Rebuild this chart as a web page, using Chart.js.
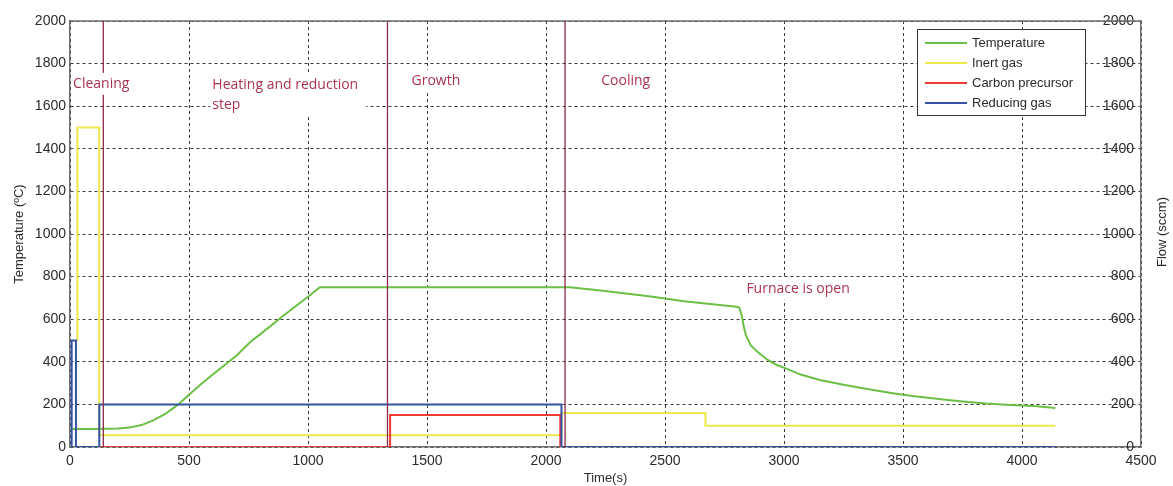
<!DOCTYPE html>
<html>
<head>
<meta charset="utf-8">
<script src="https://cdn.jsdelivr.net/npm/chart.js@4.4.0/dist/chart.umd.min.js"></script>
<style>
  html, body { margin: 0; padding: 0; background: #fff; }
  #wrap { width: 1173px; height: 486px; position: relative; }
</style>
</head>
<body>
<div id="wrap"><canvas id="c" width="1173" height="486"></canvas></div>
<script>
// Furnace run profile: temperature (left axis, °C) and gas flows (right axis, sccm) over time (s)
const tempTime  = [0, 100, 200, 250, 300, 350, 400, 455, 500, 550, 600, 700, 760, 800, 900, 1000, 1050,
                   2100, 2200, 2300, 2440, 2580, 2720, 2800, 2812, 2822, 2830, 2840, 2860, 2880, 2900, 2930,
                   2970, 3010, 3070, 3150, 3250, 3350, 3450, 3550, 3650, 3750, 3850, 3950, 4050, 4120, 4140];
const tempValue = [85, 85, 87, 91, 103, 125, 155, 200, 245, 295, 340, 430, 495, 530, 620, 705, 750,
                   750, 738, 725, 707, 684, 668, 658, 655, 620, 570, 525, 478, 455, 437, 410,
                   385, 368, 340, 315, 292, 272, 254, 238, 225, 214, 204, 197, 192, 186, 182];

const inertTime  = [25, 31, 31, 123, 123, 2065, 2065, 2670, 2670, 4140];
const inertValue = [500, 500, 1500, 1500, 55, 55, 160, 160, 100, 100];

const carbonTime  = [125, 1345, 1345, 2060, 2060, 2065];
const carbonValue = [0, 0, 150, 150, 0, 0];

const reducingTime  = [7, 7, 25, 25, 123, 123, 2065, 2065, 4140];
const reducingValue = [0, 500, 500, 0, 0, 200, 200, 0, 0];

// Phase boundaries (s) and phase captions
const phaseBounds = [140, 1334, 2080];
const phaseNames = ['Cleaning', 'Heating and reduction\nstep', 'Growth', 'Cooling', 'Furnace is open'];

const seriesNames = ['Temperature', 'Inert gas', 'Carbon precursor', 'Reducing gas'];
const seriesColors = ['#6cbf45', '#eee84a', '#ee3a36', '#3452a3'];

const toPoints = (ts, vs) => ts.map((t, i) => ({ x: t, y: vs[i] }));

const SANS = '"Liberation Sans", Arial, sans-serif';
const TICK_FONT = { family: SANS, size: 14 };
const TEXT_DARK = '#2b2b2b';
const NOTE_COLOR = '#a8344f';
const NOTE_FONT = '14px "Open Sans", sans-serif';
const plainNumber = v => String(v);

// caption anchors in data units: [time, value] for the first line's left/middle
const notePlacement = [
  { t: 13,   v: 1705 },
  { t: 598,  v: 1700 },
  { t: 1435, v: 1720 },
  { t: 2232, v: 1720 },
  { t: 2842, v: 743 }
];

const decor = {
  id: 'decor',
  beforeDatasetsDraw(chart) {
    const { ctx, chartArea: a } = chart;
    ctx.save();
    ctx.strokeStyle = '#6e6e6e';
    ctx.lineWidth = 1.5;
    ctx.beginPath();
    ctx.moveTo(a.left, a.top);
    ctx.lineTo(a.right, a.top);
    ctx.stroke();
    ctx.restore();
  },
  afterDatasetsDraw(chart) {
    const { ctx } = chart;
    const xs = chart.scales.x, ys = chart.scales.y;
    ctx.save();
    // phase captions on white boxes
    ctx.font = NOTE_FONT;
    ctx.textBaseline = 'middle';
    ctx.textAlign = 'left';
    phaseNames.forEach((name, i) => {
      const lines = name.split('\n');
      const px = xs.getPixelForValue(notePlacement[i].t);
      const py = ys.getPixelForValue(notePlacement[i].v);
      const w = Math.max(...lines.map(l => ctx.measureText(l).width));
      const lh = 20;
      ctx.fillStyle = '#ffffff';
      ctx.fillRect(px - 2, py - 11, w + 10, lh * (lines.length - 1) + 22);
      ctx.fillStyle = NOTE_COLOR;
      lines.forEach((l, k) => ctx.fillText(l, px, py + k * lh));
    });

    // legend box
    const lx = 917.5, ly = 29.5, lw = 168, lhgt = 86;
    ctx.fillStyle = '#ffffff';
    ctx.fillRect(lx, ly, lw, lhgt);
    ctx.strokeStyle = '#333';
    ctx.lineWidth = 1;
    ctx.strokeRect(lx, ly, lw, lhgt);
    ctx.font = '13px ' + SANS;
    chart.data.datasets.slice(0, 4).forEach((ds, i) => {
      const y = 43 + i * 20;
      ctx.strokeStyle = ds.borderColor;
      ctx.lineWidth = 2;
      ctx.beginPath();
      ctx.moveTo(925, y);
      ctx.lineTo(967, y);
      ctx.stroke();
      ctx.fillStyle = TEXT_DARK;
      ctx.fillText(ds.label, 972, y);
    });

    // right axis title
    ctx.translate(1162, 232);
    ctx.rotate(-Math.PI / 2);
    ctx.textAlign = 'center';
    ctx.fillStyle = TEXT_DARK;
    ctx.font = '13px ' + SANS;
    ctx.fillText('Flow (sccm)', 0, 0);
    ctx.restore();
  }
};

const gridStyle = { color: '#3a3a3a', lineWidth: 1, drawTicks: false };
const borderStyle = { color: '#6e6e6e', width: 1.5, dash: [3, 3] };

new Chart(document.getElementById('c').getContext('2d'), {
  type: 'line',
  data: {
    datasets: [
      { label: seriesNames[0], data: toPoints(tempTime, tempValue), borderColor: seriesColors[0], yAxisID: 'y', order: 4 },
      { label: seriesNames[1], data: toPoints(inertTime, inertValue), borderColor: seriesColors[1], yAxisID: 'y2', order: 3 },
      { label: seriesNames[2], data: toPoints(carbonTime, carbonValue), borderColor: seriesColors[2], yAxisID: 'y2', order: 2 },
      { label: seriesNames[3], data: toPoints(reducingTime, reducingValue), borderColor: seriesColors[3], yAxisID: 'y2', order: 1 },
      ...phaseBounds.map(t => ({
        label: 'phase ' + t,
        data: [{ x: t, y: 0 }, { x: t, y: 2000 }],
        borderColor: '#8c2a48',
        borderWidth: 1.3,
        yAxisID: 'y',
        order: 0
      }))
    ]
  },
  options: {
    responsive: false,
    animation: false,
    devicePixelRatio: 1,
    layout: { padding: { top: 21, left: 0, right: 0, bottom: 0 } },
    elements: {
      point: { radius: 0, hoverRadius: 0 },
      line: { borderWidth: 2, tension: 0, fill: false }
    },
    plugins: { legend: { display: false }, tooltip: { enabled: false } },
    scales: {
      x: {
        type: 'linear', min: 0, max: 4500,
        ticks: { stepSize: 500, autoSkip: false, maxRotation: 0, padding: 6, color: TEXT_DARK, font: TICK_FONT, callback: plainNumber },
        grid: gridStyle,
        border: borderStyle,
        title: { display: true, text: 'Time(s)', color: TEXT_DARK, font: { family: SANS, size: 13 }, padding: { top: 0, bottom: 0 } },
        afterFit(s) { s.height = 39; }
      },
      y: {
        position: 'left', min: 0, max: 2000,
        ticks: { stepSize: 200, padding: 4, color: TEXT_DARK, font: TICK_FONT, callback: plainNumber },
        grid: gridStyle,
        border: borderStyle,
        title: { display: true, text: 'Temperature (ºC)', color: TEXT_DARK, font: { family: SANS, size: 13 }, padding: { top: 12, bottom: 0 } },
        afterFit(s) { s.width = 70; }
      },
      y2: {
        position: 'right', min: 0, max: 2000,
        ticks: { stepSize: 200, mirror: true, padding: -7, color: TEXT_DARK, font: TICK_FONT, callback: plainNumber },
        grid: { display: false, drawTicks: false },
        border: { color: '#6e6e6e', width: 1.5 },
        afterFit(s) { s.width = 32; }
      }
    }
  },
  plugins: [decor]
});
</script>
</body>
</html>
